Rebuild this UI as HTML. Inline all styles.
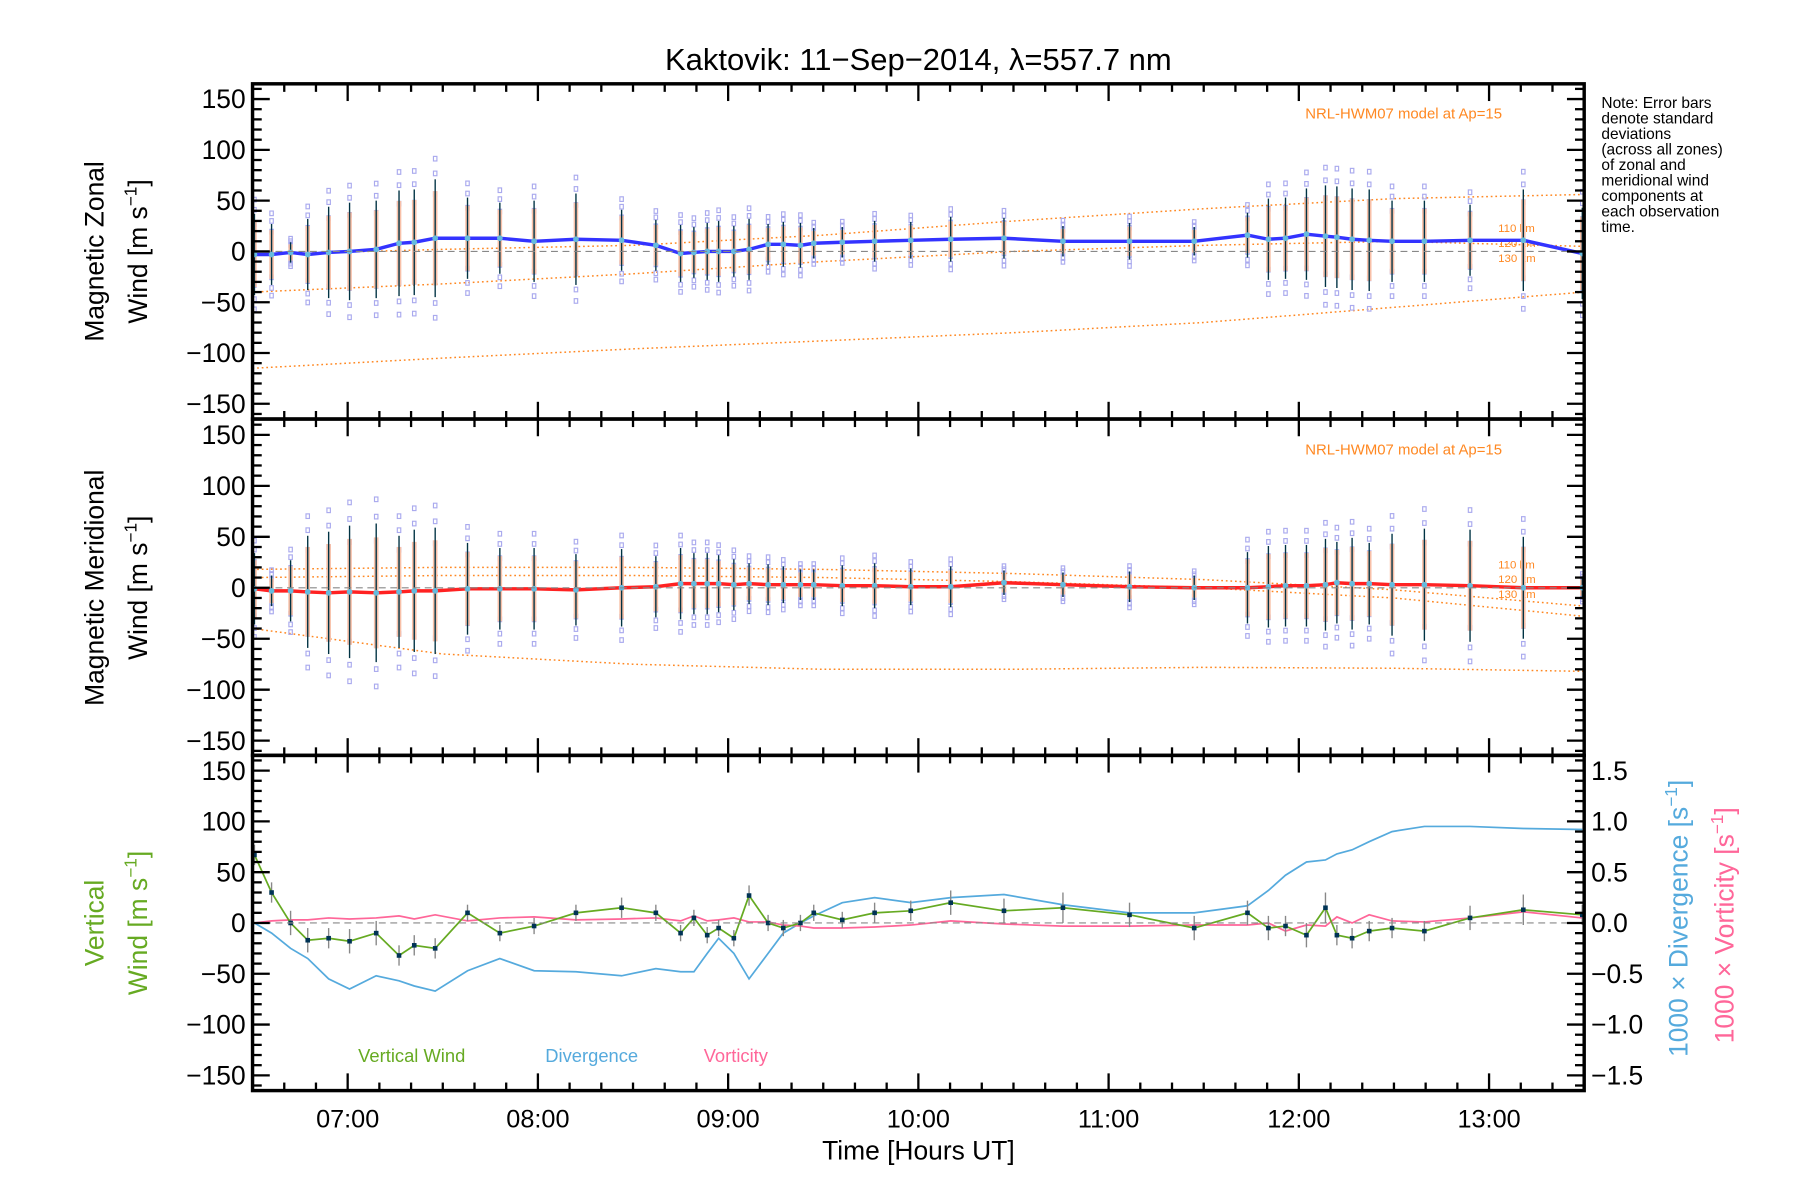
<!DOCTYPE html>
<html><head><meta charset="utf-8"><style>
html,body{margin:0;padding:0;background:#fff;}
svg{display:block;font-family:"Liberation Sans",sans-serif;}
</style></head><body>
<svg id="chart" width="1800" height="1200" viewBox="0 0 1568 1045.3" xmlns="http://www.w3.org/2000/svg">
<rect x="0" y="0" width="1568" height="1046" fill="#fff"/>
<text x="800" y="61" font-size="27" text-anchor="middle">Kaktovik: 11−Sep−2014, λ=557.7 nm</text>
<g id="plots"></g>
<g font-size="13.5" fill="#000">
<text x="1395" y="94">Note: Error bars</text>
<text x="1395" y="107.5">denote standard</text>
<text x="1395" y="121">deviations</text>
<text x="1395" y="134.5">(across all zones)</text>
<text x="1395" y="148">of zonal and</text>
<text x="1395" y="161.5">meridional wind</text>
<text x="1395" y="175">components at</text>
<text x="1395" y="188.5">each observation</text>
<text x="1395" y="202">time.</text>
</g>
<text x="800" y="1010" font-size="23" text-anchor="middle">Time [Hours UT]</text>
<g font-size="23" text-anchor="middle">
<text transform="translate(90,219) rotate(-90)">Magnetic Zonal</text>
<text transform="translate(128,219) rotate(-90)">Wind [m s<tspan dy="-9" font-size="15">−1</tspan><tspan dy="9">]</tspan></text>
<text transform="translate(90,512) rotate(-90)">Magnetic Meridional</text>
<text transform="translate(128,512) rotate(-90)">Wind [m s<tspan dy="-9" font-size="15">−1</tspan><tspan dy="9">]</tspan></text>
<text fill="#66aa22" transform="translate(90,804) rotate(-90)">Vertical</text>
<text fill="#66aa22" transform="translate(128,804) rotate(-90)">Wind [m s<tspan dy="-9" font-size="15">−1</tspan><tspan dy="9">]</tspan></text>
<text fill="#55aadd" transform="translate(1470,800) rotate(-90)">1000 × Divergence [s<tspan dy="-9" font-size="15">−1</tspan><tspan dy="9">]</tspan></text>
<text fill="#ff6699" transform="translate(1510,806) rotate(-90)">1000 × Vorticity [s<tspan dy="-9" font-size="15">−1</tspan><tspan dy="9">]</tspan></text>
</g>
<g font-size="16">
<text x="312" y="925" fill="#66aa22">Vertical Wind</text>
<text x="475" y="925" fill="#55aadd">Divergence</text>
<text x="613" y="925" fill="#ff6699">Vorticity</text>
</g>
<g font-size="13" fill="#ff8822">
<text x="1137" y="103">NRL-HWM07 model at Ap=15</text>
<text x="1137" y="396">NRL-HWM07 model at Ap=15</text>
</g>
</svg>
<script>
// observation times (hours UT)
const obsTimes=[6.51,6.60,6.70,6.79,6.90,7.01,7.15,7.27,7.35,7.46,7.63,7.80,7.98,8.20,8.44,8.62,8.75,8.82,8.89,8.95,9.03,9.11,9.21,9.29,9.38,9.45,9.60,9.77,9.96,10.17,10.45,10.76,11.11,11.45,11.73,11.84,11.93,12.04,12.14,12.20,12.28,12.37,12.49,12.66,12.90,13.18,13.49];
const zonalWind=[-3,-3,-1,-3,-1,0,2,8,9,13,13,13,10,12,11,6,-2,-1,0,0,0,2,7,7,6,8,9,10,11,12,13,10,10,10,16,12,13,17,15,14,12,11,10,10,11,11,-2];
const zonalErr=[40,30,10,35,45,48,48,52,52,58,40,35,40,45,30,25,28,25,28,30,25,30,20,22,22,15,15,20,18,22,20,15,18,14,22,40,40,45,50,50,50,50,40,40,35,50,45];
const meridWind=[-1,-3,-3,-4,-5,-4,-5,-4,-3,-3,-1,-1,-1,-2,0,1,4,4,4,4,3,4,3,3,3,3,2,2,1,1,5,3,1,0,0,1,2,2,3,5,4,4,3,3,2,0,0];
const meridErr=[35,15,30,55,60,65,68,55,60,62,45,40,40,35,38,30,35,30,30,28,25,20,20,18,15,15,20,22,18,20,12,12,15,12,35,40,40,40,45,40,45,40,50,55,55,50,10];
const vertWind=[67,30,0,-17,-15,-18,-10,-32,-22,-25,10,-10,-3,10,15,10,-10,5,-12,-5,-15,27,0,-5,0,10,3,10,12,20,12,15,8,-5,10,-5,-3,-12,15,-12,-15,-8,-5,-8,5,13,8];
const vertErr=[10,10,12,12,10,12,12,10,10,10,8,8,8,8,10,8,8,8,8,8,8,10,8,8,8,8,8,10,10,12,12,15,12,12,12,12,10,12,15,10,10,10,10,10,12,15,10];
const divergence=[0,-0.1,-0.25,-0.35,-0.55,-0.65,-0.52,-0.57,-0.62,-0.67,-0.47,-0.35,-0.47,-0.48,-0.52,-0.45,-0.48,-0.48,-0.3,-0.15,-0.3,-0.55,-0.3,-0.1,0,0.07,0.2,0.25,0.2,0.25,0.28,0.18,0.1,0.1,0.17,0.32,0.47,0.6,0.62,0.68,0.72,0.8,0.9,0.95,0.95,0.93,0.92];
const vorticity=[0,0.02,0.03,0.03,0.05,0.04,0.05,0.07,0.04,0.08,0.02,0.05,0.06,0.03,0.04,0.05,0.02,0.07,0.02,0.03,0.05,0.01,0.01,-0.02,-0.03,-0.05,-0.05,-0.04,-0.02,0.02,-0.01,-0.03,-0.03,-0.02,-0.02,0,-0.08,-0.02,-0.03,0.06,0,0.08,0.02,0.01,0.05,0.11,0.05];
// HWM model nodes
const modelHours=[6.5,7.5,8.5,9.5,10.5,11.5,12.5,13.5];
const zonalModel110=[-3,2,6,16,30,42,52,56];
const zonalModel120=[-40,-32,-22,-10,0,6,10,5];
const zonalModel130=[-115,-105,-96,-88,-80,-70,-55,-40];
const meridModel110=[18,20,20,18,14,8,-2,-18];
const meridModel120=[10,12,12,10,6,0,-10,-28];
const meridModel130=[-40,-65,-75,-80,-80,-78,-79,-82];
const xTickLabels=["07:00","08:00","09:00","10:00","11:00","12:00","13:00"];
const xTickHours=[7,8,9,10,11,12,13];
const yTickLabels=["150","100","50","0","−50","−100","−150"];
const yTickValues=[150,100,50,0,-50,-100,-150];
const rTickLabels=["1.5","1.0","0.5","0.0","−0.5","−1.0","−1.5"];
const rTickValues=[1.5,1,0.5,0,-0.5,-1,-1.5];

const NS="http://www.w3.org/2000/svg";
const root=document.getElementById('plots');
const X0=220,X1=1380,H0=6.5,H1=13.5;
const xs=h=>X0+(h-H0)/(H1-H0)*(X1-X0);
const panels=[{top:73,bot:365,zero:219},{top:365,bot:658,zero:512},{top:658,bot:950,zero:804}];
const ys=(p,v)=>p.zero-v*(p.bot-p.top)/330;
const yr=(p,v)=>p.zero-v*(p.bot-p.top)/3.3;
function el(tag,attrs,parent){const e=document.createElementNS(NS,tag);for(const k in attrs)e.setAttribute(k,attrs[k]);(parent||root).appendChild(e);return e;}
function poly(pts,attrs){return el('polyline',Object.assign({points:pts.map(p=>p[0].toFixed(1)+','+p[1].toFixed(1)).join(' '),fill:'none'},attrs));}

function drawAxes(p,idx,rightScale){
  const z=el('line',{x1:X0,x2:X1,y1:p.zero,y2:p.zero,stroke:'#888','stroke-dasharray':'6,4','stroke-width':1});
  
  
  for(let v=-160;v<=160;v+=10){
    const y=ys(p,v); if(y<p.top-0.5||y>p.bot+0.5)continue;
    const major=v%50===0;const L=major?15:8;
    el('line',{x1:X0,x2:X0+L,y1:y,y2:y,stroke:'#000','stroke-width':2});
    if(!rightScale) el('line',{x1:X1,x2:X1-L,y1:y,y2:y,stroke:'#000','stroke-width':2});
  }
  yTickValues.forEach((v,i)=>{
    const t=el('text',{x:X0-6,y:ys(p,v)+8,'font-size':23,'text-anchor':'end'});
    t.textContent=yTickLabels[i];
    
    
  });
  if(rightScale){
    for(let k=-16;k<=16;k++){const v=k/10;const y=yr(p,v);if(y<p.top-0.5||y>p.bot+0.5)continue;
      const major=k%5===0;const L=major?15:8;
      el('line',{x1:X1,x2:X1-L,y1:y,y2:y,stroke:'#000','stroke-width':2});}
    rTickValues.forEach((v,i)=>{
      const t=el('text',{x:X1+6,y:yr(p,v)+8,'font-size':23});
      t.textContent=rTickLabels[i];
      
      
    });
  }
  for(let m=390;m<=810;m+=10){const x=xs(m/60);const major=m%60===0;const L=major?15:7;
    el('line',{x1:x,x2:x,y1:p.top,y2:p.top+L,stroke:'#000','stroke-width':2});
    el('line',{x1:x,x2:x,y1:p.bot,y2:p.bot-L,stroke:'#000','stroke-width':2});}
  const b=el('rect',{x:X0,y:p.top,width:X1-X0,height:p.bot-p.top,fill:'none',stroke:'#000','stroke-width':3});
  
  
}

function drawWindPanel(p,vals,errs,models,lineColor,name){
  models.forEach((m,j)=>{
    const l=poly(modelHours.map((h,i)=>[xs(h),ys(p,m[i])]),{stroke:'#ff8822','stroke-width':1.3,'stroke-dasharray':'1.5,2.5'});
    
    
    const t=el('text',{x:1305,y:[p.zero-17,p.zero-4,p.zero+9][j],'font-size':10,fill:'#ff8822'});
    t.textContent=['110 km','120 km','130 km'][j];
  });
  obsTimes.forEach((h,i)=>{
    const x=xs(h);
    [-1.35,-1.1,-0.75,0.75,1.1,1.35].forEach(f=>{
      const y=ys(p,vals[i]+f*errs[i]);
      if(y<p.top||y>p.bot)return;
      el('rect',{x:x-1.5,y:y-2,width:3,height:4,fill:'none',stroke:'#aaaaee','stroke-width':1});
    });
    el('line',{x1:x,x2:x,y1:ys(p,vals[i]+errs[i]*0.8),y2:ys(p,vals[i]-errs[i]*0.8),stroke:'#f8c0a8','stroke-width':4});
    const eb=el('line',{x1:x,x2:x,y1:ys(p,vals[i]+errs[i]),y2:ys(p,vals[i]-errs[i]),stroke:'#003344','stroke-width':1.2});
    
    
  });
  const l=poly(obsTimes.map((h,i)=>[xs(h),ys(p,vals[i])]),{stroke:lineColor,'stroke-width':3});
  
  
  obsTimes.forEach((h,i)=>{
    const c=el('circle',{cx:xs(h),cy:ys(p,vals[i]),r:2.5,fill:'#66bbdd'});
    
    
  });
}

drawWindPanel(panels[0],zonalWind,zonalErr,[zonalModel110,zonalModel120,zonalModel130],'#3333ff','zonal');
drawWindPanel(panels[1],meridWind,meridErr,[meridModel110,meridModel120,meridModel130],'#ff2222','meridional');

const p3=panels[2];
const dv=poly(obsTimes.map((h,i)=>[xs(h),yr(p3,divergence[i])]),{stroke:'#55aadd','stroke-width':1.5});


const vo=poly(obsTimes.map((h,i)=>[xs(h),yr(p3,vorticity[i])]),{stroke:'#ff6699','stroke-width':1.5});


obsTimes.forEach((h,i)=>{
  const e=el('line',{x1:xs(h),x2:xs(h),y1:ys(p3,vertWind[i]+vertErr[i]),y2:ys(p3,vertWind[i]-vertErr[i]),stroke:'#888','stroke-width':1.2});
  
  
});
const vw=poly(obsTimes.map((h,i)=>[xs(h),ys(p3,vertWind[i])]),{stroke:'#66aa22','stroke-width':1.5});


obsTimes.forEach((h,i)=>{
  const c=el('rect',{x:xs(h)-2,y:ys(p3,vertWind[i])-2,width:4,height:4,fill:'#003355'});
  
  
});

drawAxes(panels[0],0,false);
drawAxes(panels[1],1,false);
drawAxes(panels[2],2,true);
xTickHours.forEach((h,i)=>{
  const t=el('text',{x:xs(h),y:982,'font-size':22,'text-anchor':'middle'});
  t.textContent=xTickLabels[i];
  
  
});
</script>
</body></html>
